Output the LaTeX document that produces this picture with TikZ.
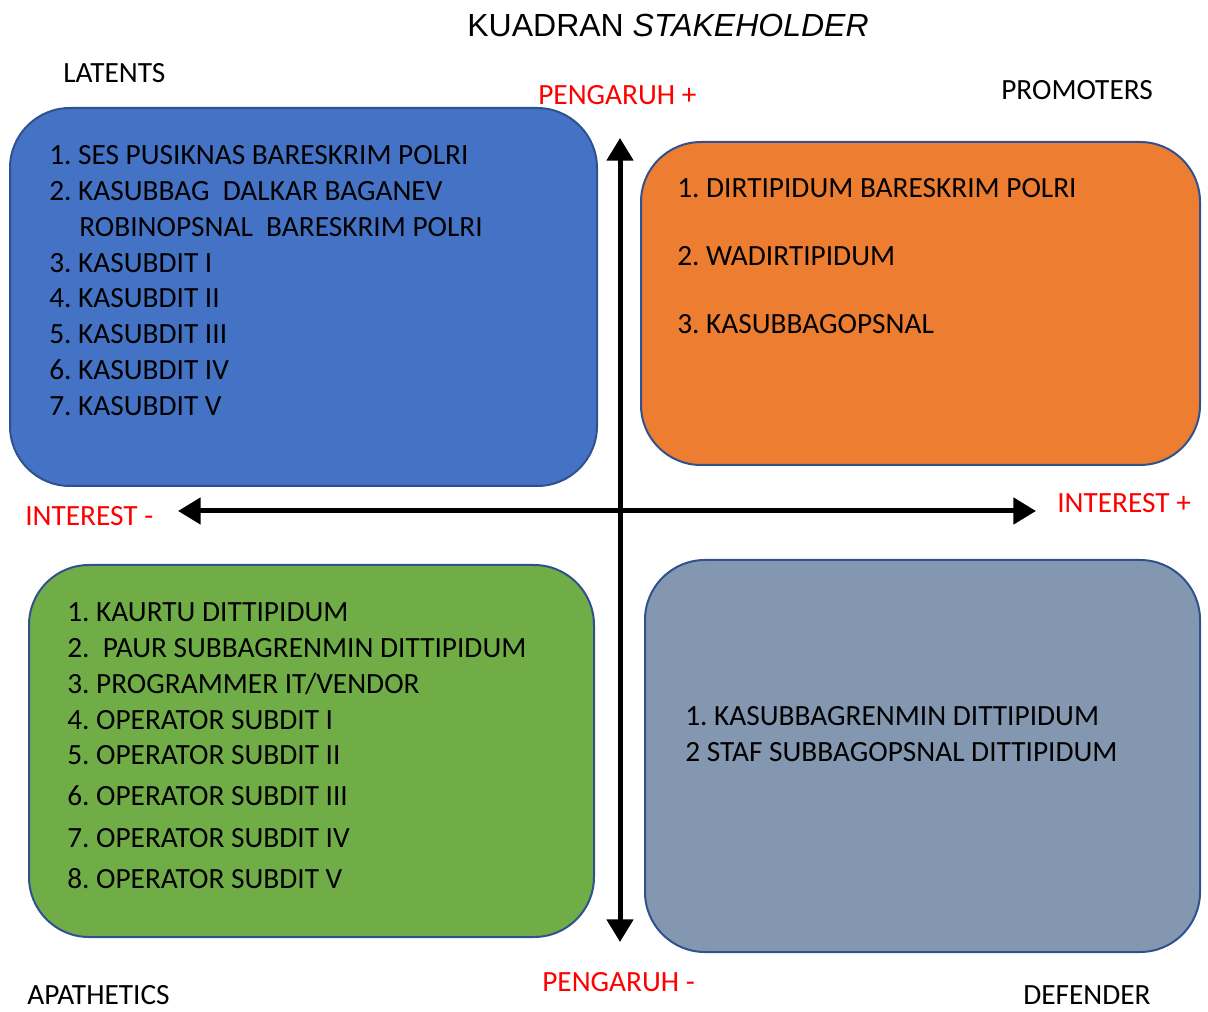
\documentclass[tikz,border=0pt]{standalone}
\usepackage{fontspec}
\setmainfont{Carlito}
\newfontfamily\arialf{Liberation Sans}
\usetikzlibrary{arrows.meta}
\frenchspacing
\definecolor{qblue}{HTML}{4472C4}
\definecolor{qorange}{HTML}{ED7D31}
\definecolor{qgreen}{HTML}{70AD47}
\definecolor{qgray}{HTML}{8497B0}
\definecolor{qline}{HTML}{2F528F}
\definecolor{qred}{HTML}{FF0000}
\tikzset{
  quad/.style={draw=qline, line width=1.5pt, rounded corners=45pt, inner sep=0pt},
  itm/.style={anchor=base west, inner sep=0pt, font=\fontsize{22}{26}\selectfont\frenchspacing, text=black},
  lbl/.style={anchor=base west, inner sep=0pt, font=\fontsize{22}{26}\selectfont, text=black},
  redlbl/.style={anchor=base west, inner sep=0pt, font=\fontsize{22}{26}\selectfont, text=qred},
  axis/.style={line width=3.75pt, {Triangle[length=17pt,width=19.5pt]}-{Triangle[length=17pt,width=19.5pt]}}
}
\begin{document}
\begin{tikzpicture}[x=0.75pt,y=-0.75pt]
\useasboundingbox (0,0) rectangle (1208,1012);
% title
\node (title) [anchor=base, inner sep=0pt, font=\arialf\fontsize{24}{28}\selectfont] at (668,36.5) {KUADRAN \textit{STAKEHOLDER}};
% quadrant boxes
\node (blue) [quad, fill=qblue, minimum width=440.25pt, minimum height=283.5pt] at (303.5,297) {};
\node (orange) [quad, fill=qorange, minimum width=419.25pt, minimum height=242.25pt] at (920.5,303.5) {};
\node (green) [quad, fill=qgreen, minimum width=423.75pt, minimum height=279pt] at (311.5,751) {};
\node (gray) [quad, fill=qgray, minimum width=416.25pt, minimum height=294pt] at (922.5,756) {};
% axes
\coordinate (vtop) at (620,138);
\coordinate (vbot) at (620,942);
\coordinate (hleft) at (178,511);
\coordinate (hright) at (1036,511);
\draw[axis] (hleft) -- (hright);
\draw[axis] (vtop) -- (vbot);
% corner labels
\node (latents) [lbl] at (63,82.5) {LATENTS};
\node (promoters) [lbl] at (1001,99.5) {PROMOTERS};
\node (apathetics) [lbl] at (27,1004) {APATHETICS};
\node (defender) [lbl] at (1023,1004) {DEFENDER};
% axis labels
\node (pplus) [redlbl] at (538,104.5) {PENGARUH +};
\node (pminus) [redlbl] at (542,991.5) {PENGARUH -};
\node (iminus) [redlbl] at (25,525.5) {INTEREST -};
\node (iplus) [redlbl] at (1057,512.5) {INTEREST +};
% blue items
\node (b1) [itm] at (49,164.5) {1. SES PUSIKNAS BARESKRIM POLRI};
\node (b2) [itm] at (49,200.5) {2. KASUBBAG\ \ DALKAR BAGANEV};
\node (b2b) [itm] at (79,236.5) {ROBINOPSNAL\ \ BARESKRIM POLRI};
\node (b3) [itm] at (49,272.5) {3. KASUBDIT I};
\node (b4) [itm] at (49,307.5) {4. KASUBDIT II};
\node (b5) [itm] at (49,343.5) {5. KASUBDIT III};
\node (b6) [itm] at (49,379.5) {6. KASUBDIT IV};
\node (b7) [itm] at (49,415.5) {7. KASUBDIT V};
% orange items
\node (o1) [itm] at (677,197.5) {1. DIRTIPIDUM BARESKRIM POLRI};
\node (o2) [itm] at (677,265.5) {2. WADIRTIPIDUM};
\node (o3) [itm] at (677,333.5) {3. KASUBBAGOPSNAL};
% green items
\node (g1) [itm] at (67,621.5) {1. KAURTU DITTIPIDUM};
\node (g2) [itm] at (67,657.5) {2.\ \ PAUR SUBBAGRENMIN DITTIPIDUM};
\node (g3) [itm] at (67,693.5) {3. PROGRAMMER IT/VENDOR};
\node (g4) [itm] at (67,729.5) {4. OPERATOR SUBDIT I};
\node (g5) [itm] at (67,764.5) {5. OPERATOR SUBDIT II};
\node (g6) [itm] at (67,805.5) {6. OPERATOR SUBDIT III};
\node (g7) [itm] at (67,847.5) {7. OPERATOR SUBDIT IV};
\node (g8) [itm] at (67,888.5) {8. OPERATOR SUBDIT V};
% gray items
\node (d1) [itm] at (685,725.5) {1. KASUBBAGRENMIN DITTIPIDUM};
\node (d2) [itm] at (685,761.5) {2 STAF SUBBAGOPSNAL DITTIPIDUM};
\end{tikzpicture}
\end{document}
